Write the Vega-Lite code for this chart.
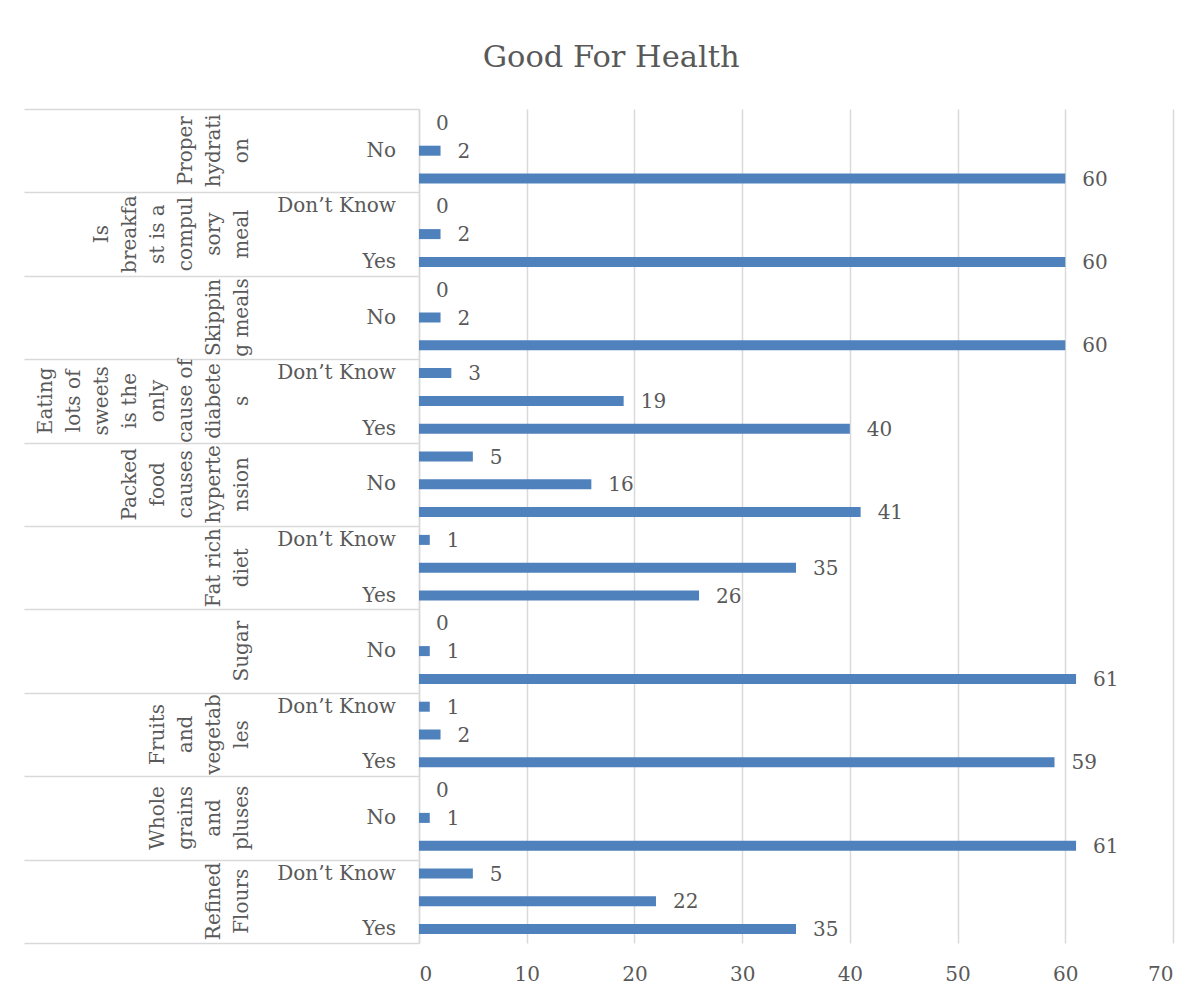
{
  "$schema": "https://vega.github.io/schema/vega-lite/v6.json",
  "background": "white",
  "padding": {"left": 23, "top": 42, "right": 5, "bottom": 5},
  "width": 754,
  "height": 834,
  "config": {"view": {"stroke": null}},
  "title": {"text": "Good For Health", "font": "DejaVu Serif", "fontSize": 30.5, "fontWeight": "normal", "color": "#595959", "anchor": "middle", "frame": "bounds", "dx": 13, "offset": 35},
  "datasets": {
    "answers": [
      {"topic": "Proper hydration", "answer": "Don’t Know", "count": 0},
      {"topic": "Proper hydration", "answer": "No", "count": 2},
      {"topic": "Proper hydration", "answer": "Yes", "count": 60},
      {"topic": "Is breakfast is a compulsory meal", "answer": "Don’t Know", "count": 0},
      {"topic": "Is breakfast is a compulsory meal", "answer": "No", "count": 2},
      {"topic": "Is breakfast is a compulsory meal", "answer": "Yes", "count": 60},
      {"topic": "Skipping meals", "answer": "Don’t Know", "count": 0},
      {"topic": "Skipping meals", "answer": "No", "count": 2},
      {"topic": "Skipping meals", "answer": "Yes", "count": 60},
      {"topic": "Eating lots of sweets is the only cause of diabetes", "answer": "Don’t Know", "count": 3},
      {"topic": "Eating lots of sweets is the only cause of diabetes", "answer": "No", "count": 19},
      {"topic": "Eating lots of sweets is the only cause of diabetes", "answer": "Yes", "count": 40},
      {"topic": "Packed food causes hypertension", "answer": "Don’t Know", "count": 5},
      {"topic": "Packed food causes hypertension", "answer": "No", "count": 16},
      {"topic": "Packed food causes hypertension", "answer": "Yes", "count": 41},
      {"topic": "Fat rich diet", "answer": "Don’t Know", "count": 1},
      {"topic": "Fat rich diet", "answer": "No", "count": 35},
      {"topic": "Fat rich diet", "answer": "Yes", "count": 26},
      {"topic": "Sugar", "answer": "Don’t Know", "count": 0},
      {"topic": "Sugar", "answer": "No", "count": 1},
      {"topic": "Sugar", "answer": "Yes", "count": 61},
      {"topic": "Fruits and vegetables", "answer": "Don’t Know", "count": 1},
      {"topic": "Fruits and vegetables", "answer": "No", "count": 2},
      {"topic": "Fruits and vegetables", "answer": "Yes", "count": 59},
      {"topic": "Whole grains and pluses", "answer": "Don’t Know", "count": 0},
      {"topic": "Whole grains and pluses", "answer": "No", "count": 1},
      {"topic": "Whole grains and pluses", "answer": "Yes", "count": 61},
      {"topic": "Refined Flours", "answer": "Don’t Know", "count": 5},
      {"topic": "Refined Flours", "answer": "No", "count": 22},
      {"topic": "Refined Flours", "answer": "Yes", "count": 35}
    ],
    "topics": [
      {"topic": "Proper hydration", "linesRightToLeft": "on|hydrati|Proper"},
      {"topic": "Is breakfast is a compulsory meal", "linesRightToLeft": "meal|sory|compul|st is a|breakfa|Is"},
      {"topic": "Skipping meals", "linesRightToLeft": "g meals|Skippin"},
      {"topic": "Eating lots of sweets is the only cause of diabetes", "linesRightToLeft": "s|diabete|cause of|only|is the|sweets|lots of|Eating"},
      {"topic": "Packed food causes hypertension", "linesRightToLeft": "nsion|hyperte|causes|food|Packed"},
      {"topic": "Fat rich diet", "linesRightToLeft": "diet|Fat rich"},
      {"topic": "Sugar", "linesRightToLeft": "Sugar"},
      {"topic": "Fruits and vegetables", "linesRightToLeft": "les|vegetab|and|Fruits"},
      {"topic": "Whole grains and pluses", "linesRightToLeft": "pluses|and|grains|Whole"},
      {"topic": "Refined Flours", "linesRightToLeft": "Flours|Refined"}
    ]
  },
  "encoding": {
    "y": {
      "field": "topic",
      "type": "nominal",
      "sort": ["Proper hydration", "Is breakfast is a compulsory meal", "Skipping meals", "Eating lots of sweets is the only cause of diabetes", "Packed food causes hypertension", "Fat rich diet", "Sugar", "Fruits and vegetables", "Whole grains and pluses", "Refined Flours"],
      "scale": {"paddingInner": 0, "paddingOuter": 0},
      "axis": {"title": null, "labels": false, "ticks": true, "tickBand": "extent", "tickSize": 395, "tickColor": "#d9d9d9", "tickWidth": 1.5, "domain": true, "domainColor": "#d9d9d9", "domainWidth": 1.5, "grid": false}
    }
  },
  "layer": [
    {
      "data": {"name": "answers"},
      "mark": {"type": "bar", "color": "#4f81bd"},
      "encoding": {
        "x": {"field": "count", "type": "quantitative", "scale": {"domain": [0, 70], "nice": false},
          "axis": {"title": null, "grid": true, "gridColor": "#d9d9d9", "gridWidth": 1.5, "domain": false, "ticks": false, "values": [0, 10, 20, 30, 40, 50, 60, 70], "labelFont": "DejaVu Serif", "labelFontSize": 20, "labelColor": "#595959", "labelPadding": 21}},
        "yOffset": {"field": "answer", "type": "nominal", "sort": ["Don’t Know", "No", "Yes"], "scale": {"paddingInner": 0.64, "paddingOuter": 0.32}}
      }
    },
    {
      "data": {"name": "answers"},
      "mark": {"type": "text", "align": "left", "baseline": "middle", "dx": 17, "dy": 1, "font": "DejaVu Serif", "fontSize": 20, "color": "#595959"},
      "encoding": {
        "x": {"field": "count", "type": "quantitative"},
        "yOffset": {"field": "answer", "type": "nominal", "sort": ["Don’t Know", "No", "Yes"]},
        "text": {"field": "count", "type": "quantitative"}
      }
    },
    {
      "data": {"name": "answers"},
      "mark": {"type": "text", "align": "right", "baseline": "middle", "dx": -23, "font": "DejaVu Serif", "fontSize": 20, "color": "#595959"},
      "encoding": {
        "x": {"datum": 0, "type": "quantitative"},
        "yOffset": {"field": "answer", "type": "nominal", "sort": ["Don’t Know", "No", "Yes"]},
        "text": {"condition": {"test": "(indexof(domain('y'), datum.topic) % 2 == 0) == (datum.answer == 'No')", "field": "answer"}, "value": ""}
      }
    },
    {
      "data": {"name": "topics"},
      "mark": {"type": "text", "angle": 270, "align": "center", "baseline": "bottom", "dy": -167, "lineBreak": "|", "lineHeight": -28, "font": "DejaVu Serif", "fontSize": 20, "color": "#595959"},
      "encoding": {
        "x": {"datum": 0, "type": "quantitative"},
        "text": {"field": "linesRightToLeft", "type": "nominal"}
      }
    }
  ]
}
